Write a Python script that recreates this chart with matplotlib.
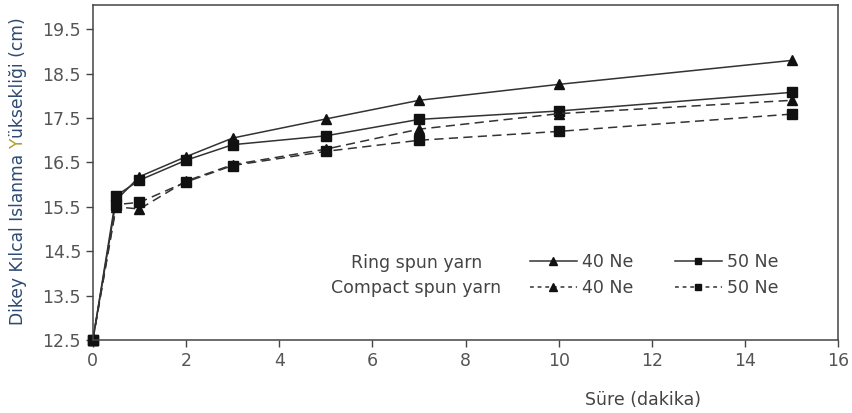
import matplotlib.pyplot as plt
from matplotlib.lines import Line2D

plt.rcParams["font.family"] = ["DejaVu Sans"]

sure = [0, 0.5, 1, 2, 3, 5, 7, 10, 15]
ring_40 = [12.5, 15.65, 16.18, 16.63, 17.05, 17.48, 17.9, 18.26, 18.8]
ring_50 = [12.5, 15.75, 16.1, 16.55, 16.9, 17.1, 17.47, 17.66, 18.08]
compact_40 = [12.5, 15.5, 15.45, 16.08, 16.45, 16.8, 17.25, 17.6, 17.9]
compact_50 = [12.5, 15.55, 15.6, 16.06, 16.43, 16.75, 17.0, 17.2, 17.59]

xticks = [0, 2, 4, 6, 8, 10, 12, 14, 16]
yticks = [12.5, 13.5, 14.5, 15.5, 16.5, 17.5, 18.5, 19.5]

fig = plt.figure(figsize=(8.52, 4.13), dpi=100)
ax = fig.add_axes([0.109, 0.177, 0.875, 0.811])

lc = "#333333"
dash = (0, (6, 3.5))
ax.plot(sure, ring_40, color=lc, lw=1.1, marker="^", ms=7, mfc="#111", mec="#111", clip_on=False)
ax.plot(sure, ring_50, color=lc, lw=1.1, marker="s", ms=6.5, mfc="#111", mec="#111", clip_on=False)
ax.plot(sure, compact_40, color=lc, lw=1.1, ls=dash, marker="^", ms=7, mfc="#111", mec="#111", clip_on=False)
ax.plot(sure, compact_50, color=lc, lw=1.1, ls=dash, marker="s", ms=6.5, mfc="#111", mec="#111", clip_on=False)

ax.set_xlim(0, 16)
ax.set_ylim(12.5, 20.05)
ax.set_xticks(xticks)
ax.set_yticks(yticks)
ax.set_xticklabels([str(v) for v in xticks])
ax.set_yticklabels([f"{v:.1f}" for v in yticks])
ax.tick_params(labelsize=12.5, labelcolor="#555555", color="#444", length=5, width=1)
for s in ax.spines.values():
    s.set_color("#444444")
    s.set_linewidth(1.1)

# legend: two columns (40 Ne / 50 Ne), row titles as text
handles = [
    Line2D([], [], color=lc, lw=1.1, marker="^", ms=5.5, mfc="#111", mec="#111"),
    Line2D([], [], color=lc, lw=1.1, ls=(0, (2.5, 2.5)), marker="^", ms=5.5, mfc="#111", mec="#111"),
    Line2D([], [], color=lc, lw=1.1, marker="s", ms=5, mfc="#111", mec="#111"),
    Line2D([], [], color=lc, lw=1.1, ls=(0, (2.5, 2.5)), marker="s", ms=5, mfc="#111", mec="#111"),
]
labels = ["40 Ne", "40 Ne", "50 Ne", "50 Ne"]
leg = ax.legend(handles, labels, ncol=2, frameon=False, fontsize=12.5,
                labelcolor="#444444", handlelength=2.7, handletextpad=0.3,
                columnspacing=2.4, labelspacing=0.45,
                loc="center left", bbox_to_anchor=(0.565, 0.193))
ax.text(0.434, 0.23, "Ring spun yarn", transform=ax.transAxes, ha="center",
        va="center", fontsize=12.5, color="#444444")
ax.text(0.434, 0.155, "Compact spun yarn", transform=ax.transAxes, ha="center",
        va="center", fontsize=12.5, color="#444444")

ax.text(11.8, 11.15, "Süre (dakika)", ha="center", va="center",
        fontsize=12.5, color="#444444")

# y label with the coloured letter
blue = "#2f4a72"
t1 = fig.text(0.021, 0.212, "Dikey Kılcal Islanma ", rotation=90, ha="center",
              va="bottom", fontsize=12.3, color=blue)
t2 = ax.annotate("Y", xy=(0.5, 1), xycoords=t1, rotation=90, ha="center",
                 va="bottom", fontsize=12.3, color="#b0a030", annotation_clip=False)
ax.annotate("üksekliği (cm)", xy=(0.5, 1), xycoords=t2, rotation=90,
            ha="center", va="bottom", fontsize=12.3, color=blue, annotation_clip=False)

fig.savefig("out.png", dpi=100)
